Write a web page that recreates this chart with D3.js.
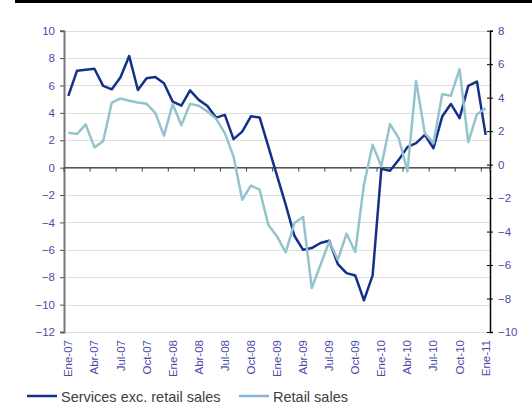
<!DOCTYPE html>
<html>
<head>
<meta charset="utf-8">
<script src="https://cdn.jsdelivr.net/npm/d3@7"></script>
<style>
  body { margin: 0; background: #fff; }
  svg { display: block; font-family: "Liberation Sans", Arial, sans-serif; }
</style>
</head>
<body>
<svg width="532" height="409"></svg>
<script>
const monthNames = ['Ene', 'Feb', 'Mar', 'Abr', 'May', 'Jun', 'Jul', 'Ago', 'Sep', 'Oct', 'Nov', 'Dic'];
const years = ['07', '08', '09', '10', '11'];
const months = [];
years.forEach((yy) => {
  monthNames.forEach((m) => {
    if (months.length < 49) months.push(m + '-' + yy);
  });
});

const tickLabels = ['Ene-07', 'Abr-07', 'Jul-07', 'Oct-07', 'Ene-08', 'Abr-08', 'Jul-08', 'Oct-08',
  'Ene-09', 'Abr-09', 'Jul-09', 'Oct-09', 'Ene-10', 'Abr-10', 'Jul-10', 'Oct-10', 'Ene-11'];

// left axis
const services = [5.24, 7.08, 7.15, 7.22, 5.97, 5.72, 6.6, 8.15, 5.67, 6.53, 6.62, 6.16,
  4.82, 4.53, 5.64, 4.95, 4.5, 3.65, 3.85, 2.08, 2.63, 3.75, 3.67, 1.55,
  -0.58, -2.7, -4.97, -6.0, -5.87, -5.5, -5.34, -7.04, -7.7, -7.87, -9.69, -7.87,
  -0.09, -0.23, 0.57, 1.5, 1.79, 2.39, 1.42, 3.73, 4.65, 3.61, 5.97, 6.28, 2.39];

// right axis
const retail = [1.9, 1.83, 2.4, 1.03, 1.4, 3.71, 3.95, 3.82, 3.71, 3.63, 3.09, 1.73,
  3.62, 2.35, 3.63, 3.52, 3.17, 2.73, 1.88, 0.48, -2.1, -1.25, -1.5, -3.59,
  -4.29, -5.24, -3.49, -3.13, -7.37, -6.0, -4.59, -5.68, -4.13, -5.22, -1.2, 1.18,
  -0.1, 2.42, 1.58, -0.41, 5.0, 1.88, 1.28, 4.21, 4.12, 5.7, 1.34, 3.01, 3.37];

const leftTicks = [10, 8, 6, 4, 2, 0, -2, -4, -6, -8, -10, -12];
const rightTicks = [8, 6, 4, 2, 0, -2, -4, -6, -8, -10];

const svg = d3.select('svg');
const labelColor = '#4a4aa8';
const darkColor = '#13308a';
const lightColor = '#94c3cc';

const x = d3.scaleBand().domain(months).range([64, 490]).padding(0);
const yL = d3.scaleLinear().domain([-12, 10]).range([332, 30.7]);
const yR = d3.scaleLinear().domain([-10, 8]).range([332, 30.7]);
const cx = (m) => x(m) + x.bandwidth() / 2;

// top rule
svg.append('rect').attr('x', 15).attr('y', 0).attr('width', 517).attr('height', 3).attr('fill', '#000');

// gridlines
svg.append('g').selectAll('line').data(leftTicks).join('line')
  .attr('x1', 64).attr('x2', 490)
  .attr('y1', (d) => Math.round(yL(d)) + 0.5).attr('y2', (d) => Math.round(yL(d)) + 0.5)
  .attr('stroke', '#dedede').attr('stroke-width', 1);

// left axis
const gL = svg.append('g').attr('transform', 'translate(64,0)')
  .call(d3.axisLeft(yL).tickValues(leftTicks).tickSize(4).tickPadding(5));
gL.select('.domain').attr('stroke', '#777').attr('stroke-width', 2);
gL.selectAll('.tick line').attr('stroke', '#555');
gL.selectAll('.tick text').attr('fill', labelColor).attr('font-size', 11.5)
  .attr('font-family', '"Liberation Sans", Arial, sans-serif');

// right axis
const gR = svg.append('g').attr('transform', 'translate(490,0)')
  .call(d3.axisRight(yR).tickValues(rightTicks).tickSize(3).tickPadding(5));
gR.select('.domain').attr('stroke', '#000').attr('stroke-width', 1.5);
gR.selectAll('.tick line').attr('stroke', '#000').attr('x1', -3);
gR.selectAll('.tick text').attr('fill', labelColor).attr('font-size', 11.5)
  .attr('font-family', '"Liberation Sans", Arial, sans-serif');

// x axis at zero
const zeroY = yL(0);
svg.append('line').attr('x1', 64).attr('x2', 490).attr('y1', zeroY).attr('y2', zeroY)
  .attr('stroke', '#555').attr('stroke-width', 1.5);
const boundaries = months.filter((m, i) => i % 3 === 0).concat([null]);
svg.append('g').selectAll('line').data(boundaries).join('line')
  .attr('x1', (d) => (d ? x(d) : 490)).attr('x2', (d) => (d ? x(d) : 490))
  .attr('y1', zeroY).attr('y2', zeroY + 4)
  .attr('stroke', '#444').attr('stroke-width', 1);

// x labels
svg.append('g').selectAll('text').data(tickLabels).join('text')
  .attr('transform', (d) => `translate(${cx(d) + 4},340) rotate(-90)`)
  .attr('text-anchor', 'end')
  .attr('font-size', 11.5)
  .attr('fill', labelColor)
  .text((d) => d);

// lines
const lineL = d3.line().x((d, i) => cx(months[i])).y((d) => yL(d));
const lineR = d3.line().x((d, i) => cx(months[i])).y((d) => yR(d));

svg.append('path').datum(services).attr('d', lineL)
  .attr('fill', 'none').attr('stroke', darkColor).attr('stroke-width', 2.5)
  .attr('stroke-linejoin', 'round');
svg.append('path').datum(retail).attr('d', lineR)
  .attr('fill', 'none').attr('stroke', lightColor).attr('stroke-width', 2.5)
  .attr('stroke-linejoin', 'round');

// legend
const legend = [
  { name: 'Services exc. retail sales', color: darkColor, x: 27 },
  { name: 'Retail sales', color: '#86b3dc', x: 239 },
];
const lg = svg.append('g').selectAll('g').data(legend).join('g')
  .attr('transform', (d) => `translate(${d.x},396)`);
lg.append('line').attr('x1', 0).attr('x2', 30).attr('y1', 0).attr('y2', 0)
  .attr('stroke', (d) => d.color).attr('stroke-width', 2.5);
lg.append('text').attr('x', 34).attr('y', 5.5)
  .attr('font-size', 14.5).attr('fill', '#404040')
  .text((d) => d.name);
</script>
</body>
</html>
